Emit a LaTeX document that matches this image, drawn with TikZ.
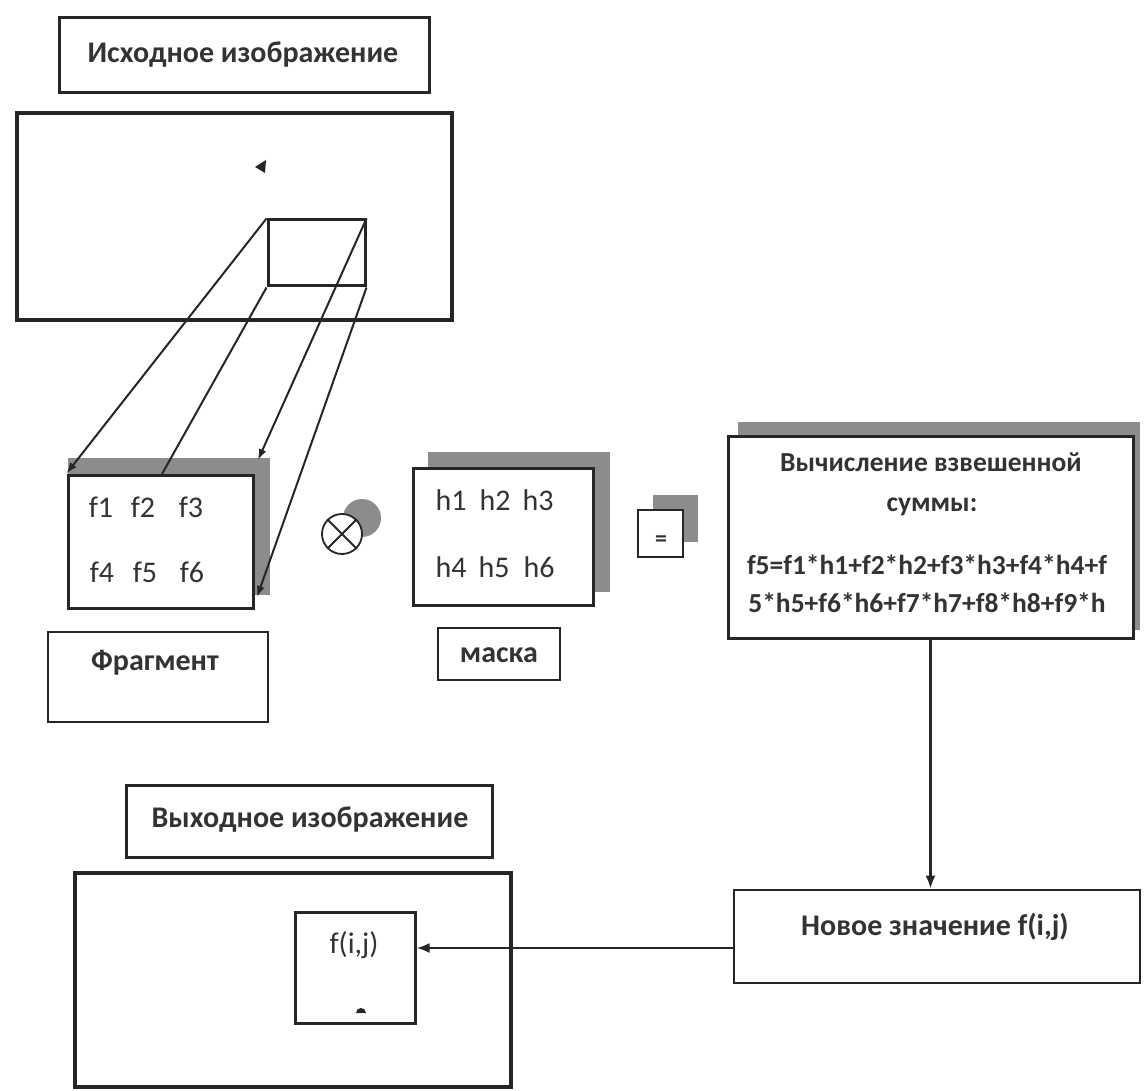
\documentclass[tikz,border=0pt]{standalone}
\usepackage{fontspec}
\setmainfont{Carlito}
\usetikzlibrary{arrows.meta,calc}
\begin{document}
\begin{tikzpicture}[x=1pt,y=-1pt,
  box/.style={draw=black!85,line width=3pt,fill=white,inner sep=0pt,rectangle},
  thinbox/.style={draw=black!85,line width=2.6pt,fill=white,inner sep=0pt,rectangle},
  shade/.style={fill=black!45,draw=none},
  lbl/.style={font=\bfseries\fontsize{30}{33}\selectfont,text=black!80,inner sep=0pt},
  sumtext/.style={font=\bfseries\fontsize{27.5}{30}\selectfont,text=black!80,inner sep=0pt},
  cell/.style={font=\fontsize{30}{33}\selectfont,text=black!80,inner sep=0pt},
  conn/.style={line width=2pt,draw=black!85},
  arr/.style={conn,-{Latex[length=11pt,width=8pt]}},
  bigarr/.style={line width=2.6pt,draw=black!85,-{Latex[length=13pt,width=10pt]}},
]
\useasboundingbox (0,0) rectangle (1144,1091);

% source image
\node[box,minimum width=370pt,minimum height=75pt] (srcLabel) at (244,55.5) {};
\node[lbl] (srcText) at (243,55) {Исходное изображение};
\node[box,line width=3.6pt,minimum width=435pt,minimum height=207pt] (srcImg) at (234.5,216.5) {};
\node[box,fill=none,minimum width=97pt,minimum height=66pt] (win) at (316.5,253) {};
\fill[black!85] (255,167) -- (266,160) -- (265,173) -- cycle;

% fragment
\fill[shade] (68,458) rectangle (270,595);
\node[box,minimum width=185pt,minimum height=133pt] (frag) at (160.5,541.5) {};
\node[cell] (f1) at (101,507) {f1};
\node[cell] (f2) at (143,507) {f2};
\node[cell] (f3) at (191,507) {f3};
\node[cell] (f4) at (102,572) {f4};
\node[cell] (f5) at (145,572) {f5};
\node[cell] (f6) at (192,572) {f6};
\node[thinbox,minimum width=220pt,minimum height=90pt] (fragLabel) at (158,677) {};
\node[lbl] (fragText) at (155,663) {Фрагмент};

% projection lines
\coordinate (p2) at (162,474);
\coordinate (p3) at (258,460);
\coordinate (p4) at (257,597);
\draw[arr] (win.north west) -- (frag.north west);
\draw[conn] (win.south west) -- (p2);
\draw[arr] (win.north east) -- (p3);
\draw[arr] (win.south east) -- (p4);

% multiplication sign
\fill[black!45] (362,518) circle[radius=19pt];
\node[circle,draw=black!85,line width=1.8pt,fill=white,minimum size=40pt,inner sep=0pt] (mul) at (342,534) {};
\draw[conn,line width=1.8pt] (mul.north west) -- (mul.south east);
\draw[conn,line width=1.8pt] (mul.north east) -- (mul.south west);

% mask
\fill[shade] (428,452) rectangle (610,592);
\node[box,minimum width=180pt,minimum height=137pt] (mask) at (503,536.5) {};
\node[cell] (h1) at (451,500) {h1};
\node[cell] (h2) at (495,500) {h2};
\node[cell] (h3) at (538,500) {h3};
\node[cell] (h4) at (451,567) {h4};
\node[cell] (h5) at (494,567) {h5};
\node[cell] (h6) at (539,567) {h6};
\node[thinbox,minimum width=122pt,minimum height=52pt] (maskLabel) at (499,654) {};
\node[lbl] (maskText) at (499,655) {маска};

% equals
\fill[shade] (653,495) rectangle (698,542);
\node[thinbox,minimum width=45pt,minimum height=47pt] (eq) at (660.5,533.5) {};
\node[lbl,font=\bfseries\fontsize{24}{26}\selectfont] (eqText) at (661,541) {=};

% weighted sum
\fill[shade] (738,422) rectangle (1140,630);
\node[box,minimum width=405pt,minimum height=202pt] (sum) at (930.5,537) {};
\node[sumtext] (s1) at (931,462) {Вычисление взвешенной};
\node[sumtext] (s2) at (932,507) {суммы:};
\node[sumtext] (s3) at (927,565) {f5=f1*h1+f2*h2+f3*h3+f4*h4+f};
\node[sumtext] (s4) at (927,603) {5*h5+f6*h6+f7*h7+f8*h8+f9*h};

% new value
\node[thinbox,minimum width=406pt,minimum height=93pt] (new) at (937,936.5) {};
\node[lbl] (newText) at (935,927) {Новое значение f(i,j)};
\draw[bigarr] (sum.south) -- (sum.south |- new.north);

% output image
\node[box,minimum width=366pt,minimum height=72pt] (outLabel) at (309,821) {};
\node[lbl] (outText) at (310,820) {Выходное изображение};
\node[box,line width=3.6pt,minimum width=436pt,minimum height=214pt] (outImg) at (293,980) {};
\node[box,minimum width=120pt,minimum height=111pt] (pix) at (355,967.5) {};
\node[cell] (pixText) at (354,945) {f(i,j)};
\fill[black!85] (356,1013) arc[start angle=180,end angle=0,radius=5pt] -- cycle;
\coordinate (hy) at (0,948);
\draw[bigarr] (new.west |- hy) -- (pix.east |- hy);
\end{tikzpicture}
\end{document}
